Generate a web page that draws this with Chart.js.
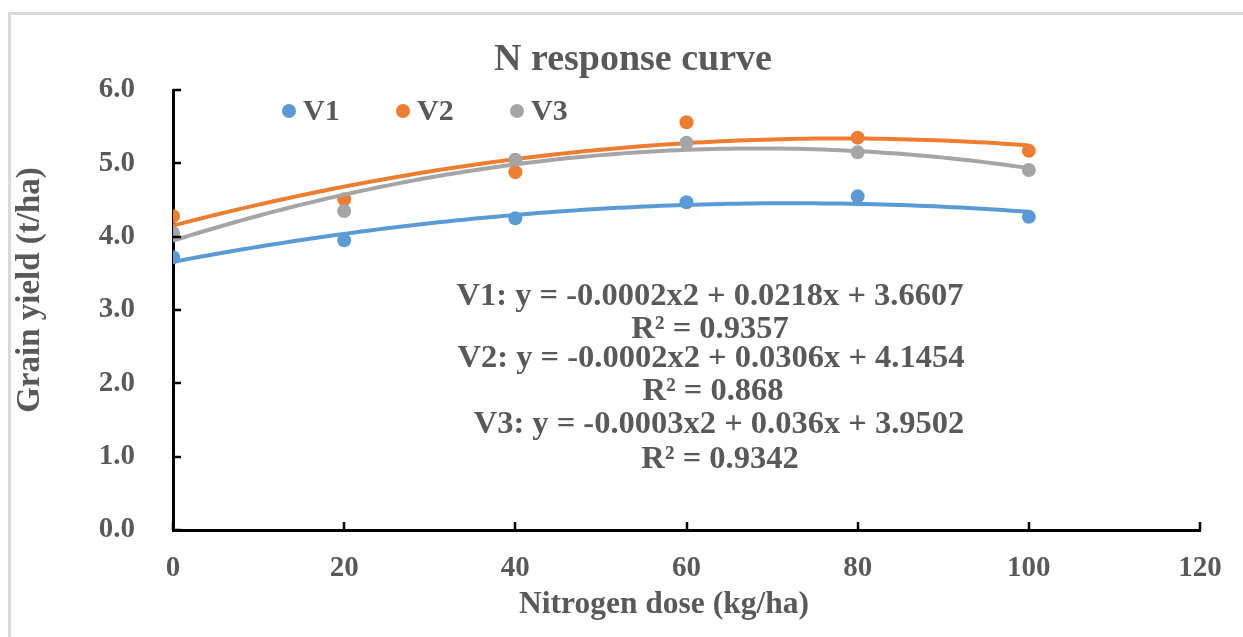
<!DOCTYPE html>
<html lang="en">
<head>
  <meta charset="UTF-8">
  <title>N response curve</title>
  <script src="https://cdn.jsdelivr.net/npm/chart.js"></script>
  <style>
    body {
      margin: 0;
      background: #fff;
    }
    canvas {
      display: block;
    }
  </style>
</head>
<body>
  <canvas id="nChart" width="1243" height="637"></canvas>

  <script>
    // values
    const doses = [0, 20, 40, 60, 80, 100];
    const v1Yield = [3.72, 3.95, 4.25, 4.47, 4.55, 4.27];
    const v2Yield = [4.28, 4.51, 4.88, 5.56, 5.35, 5.17];
    const v3Yield = [4.05, 4.35, 5.05, 5.28, 5.15, 4.91];

    const seriesNames = ['V1', 'V2', 'V3'];
    const seriesColors = ['#5B9BD5', '#ED7D31', '#A5A5A5'];

    const eqLabels = [
      ['V1: y = -0.0002x2 + 0.0218x + 3.6607', 'R² = 0.9357'],
      ['V2: y = -0.0002x2 + 0.0306x + 4.1454', 'R² = 0.868'],
      ['V3: y = -0.0003x2 + 0.036x + 3.9502', 'R² = 0.9342']
    ];

    const FONT = '"Liberation Serif", "Times New Roman", serif';
    const TEXT = '#595959';

    // quadratic least squares, like the excel trendline
    function polyFit(xs, ys) {
      let n = xs.length, sx = 0, sx2 = 0, sx3 = 0, sx4 = 0, sy = 0, sxy = 0, sx2y = 0;
      for (let i = 0; i < n; i++) {
        const x = xs[i], y = ys[i];
        sx += x; sx2 += x * x; sx3 += x * x * x; sx4 += x * x * x * x;
        sy += y; sxy += x * y; sx2y += x * x * y;
      }
      const m = [[sx4, sx3, sx2, sx2y], [sx3, sx2, sx, sxy], [sx2, sx, n, sy]];
      for (let c = 0; c < 3; c++) {
        for (let r = c + 1; r < 3; r++) {
          const f = m[r][c] / m[c][c];
          for (let k = c; k < 4; k++) m[r][k] -= f * m[c][k];
        }
      }
      const res = [0, 0, 0];
      for (let r = 2; r >= 0; r--) {
        let s = m[r][3];
        for (let k = r + 1; k < 3; k++) s -= m[r][k] * res[k];
        res[r] = s / m[r][r];
      }
      return res; // a, b, c
    }

    function trendPoints(ys) {
      const [a, b, c] = polyFit(doses, ys);
      const pts = [];
      for (let x = doses[0]; x <= doses[doses.length - 1]; x += 1) {
        pts.push({ x: x, y: a * x * x + b * x + c });
      }
      return pts;
    }

    const allYields = [v1Yield, v2Yield, v3Yield];

    const datasets = [];
    allYields.forEach((ys, i) => {
      datasets.push({
        label: seriesNames[i],
        data: doses.map((d, j) => ({ x: d, y: ys[j] })),
        backgroundColor: seriesColors[i],
        borderColor: seriesColors[i],
        pointRadius: 7,
        pointBorderWidth: 0,
        showLine: false,
        order: 3 - i
      });
      datasets.push({
        label: seriesNames[i] + ' trend',
        data: trendPoints(ys),
        borderColor: seriesColors[i],
        borderWidth: 4,
        pointRadius: 0,
        showLine: true,
        order: 3 - i
      });
    });

    // frame, title, legend, axis titles, inner tick marks, equations
    const decorPlugin = {
      id: 'decor',
      beforeDraw(chart) {
        const ctx = chart.ctx;
        ctx.save();
        ctx.strokeStyle = '#d9d9d9';
        ctx.lineWidth = 3;
        ctx.beginPath();
        ctx.moveTo(9.5, 640);
        ctx.lineTo(9.5, 13.5);
        ctx.lineTo(1250, 13.5);
        ctx.stroke();
        ctx.restore();
      },
      afterDraw(chart) {
        const ctx = chart.ctx;
        const xs = chart.scales.x, ys = chart.scales.y;
        ctx.save();

        // inner tick marks
        ctx.strokeStyle = '#000';
        ctx.lineWidth = 2.5;
        xs.ticks.forEach(t => {
          const px = Math.round(xs.getPixelForValue(t.value));
          ctx.beginPath();
          ctx.moveTo(px, ys.bottom);
          ctx.lineTo(px, ys.bottom - 8);
          ctx.stroke();
        });
        ys.ticks.forEach(t => {
          const py = Math.round(ys.getPixelForValue(t.value));
          ctx.beginPath();
          ctx.moveTo(xs.left, py);
          ctx.lineTo(xs.left + 8, py);
          ctx.stroke();
        });

        ctx.fillStyle = TEXT;
        ctx.textAlign = 'center';
        ctx.textBaseline = 'middle';

        // title
        ctx.font = 'bold 38px ' + FONT;
        ctx.fillText('N response curve', 633, 60);

        // axis titles
        ctx.font = 'bold 31.5px ' + FONT;
        ctx.fillText('Nitrogen dose (kg/ha)', 664, 605);
        ctx.save();
        ctx.translate(30, 290);
        ctx.rotate(-Math.PI / 2);
        ctx.font = 'bold 33px ' + FONT;
        ctx.fillText('Grain yield (t/ha)', 0, 0);
        ctx.restore();

        // legend
        const legendX = [289, 403, 517];
        ctx.font = 'bold 30px ' + FONT;
        ctx.textAlign = 'left';
        seriesNames.forEach((name, i) => {
          ctx.fillStyle = seriesColors[i];
          ctx.beginPath();
          ctx.arc(legendX[i], 111, 7, 0, Math.PI * 2);
          ctx.fill();
          ctx.fillStyle = TEXT;
          ctx.fillText(name, legendX[i] + 14, 112);
        });

        // trendline equations
        const eqPos = [
          [[710, 297], [710, 330]],
          [[711, 359], [713, 392]],
          [[719, 425], [720, 460]]
        ];
        ctx.font = 'bold 32.5px ' + FONT;
        ctx.textAlign = 'center';
        eqLabels.forEach((lines, i) => {
          lines.forEach((line, k) => {
            ctx.fillText(line, eqPos[i][k][0], eqPos[i][k][1]);
          });
        });

        ctx.restore();
      }
    };

    const tickFont = { family: FONT, size: 29, weight: 'bold' };

    new Chart(document.getElementById('nChart').getContext('2d'), {
      type: 'scatter',
      data: { datasets: datasets },
      options: {
        responsive: false,
        animation: false,
        layout: { padding: { top: 90, right: 43, bottom: 0, left: 0 } },
        plugins: {
          legend: { display: false },
          title: { display: false },
          tooltip: { enabled: false }
        },
        scales: {
          x: {
            type: 'linear',
            min: 0,
            max: 120,
            afterFit: s => { s.height = 107; },
            grid: { display: false },
            border: { display: true, color: '#000', width: 3 },
            ticks: { stepSize: 20, color: TEXT, font: tickFont, padding: 13, maxRotation: 0 }
          },
          y: {
            min: 0,
            max: 6,
            afterFit: s => { s.width = 173; },
            grid: { display: false },
            border: { display: true, color: '#000', width: 3 },
            ticks: {
              stepSize: 1,
              color: TEXT,
              font: tickFont,
              padding: 30,
              callback: v => v.toFixed(1)
            }
          }
        }
      },
      plugins: [decorPlugin]
    });
  </script>
</body>
</html>
